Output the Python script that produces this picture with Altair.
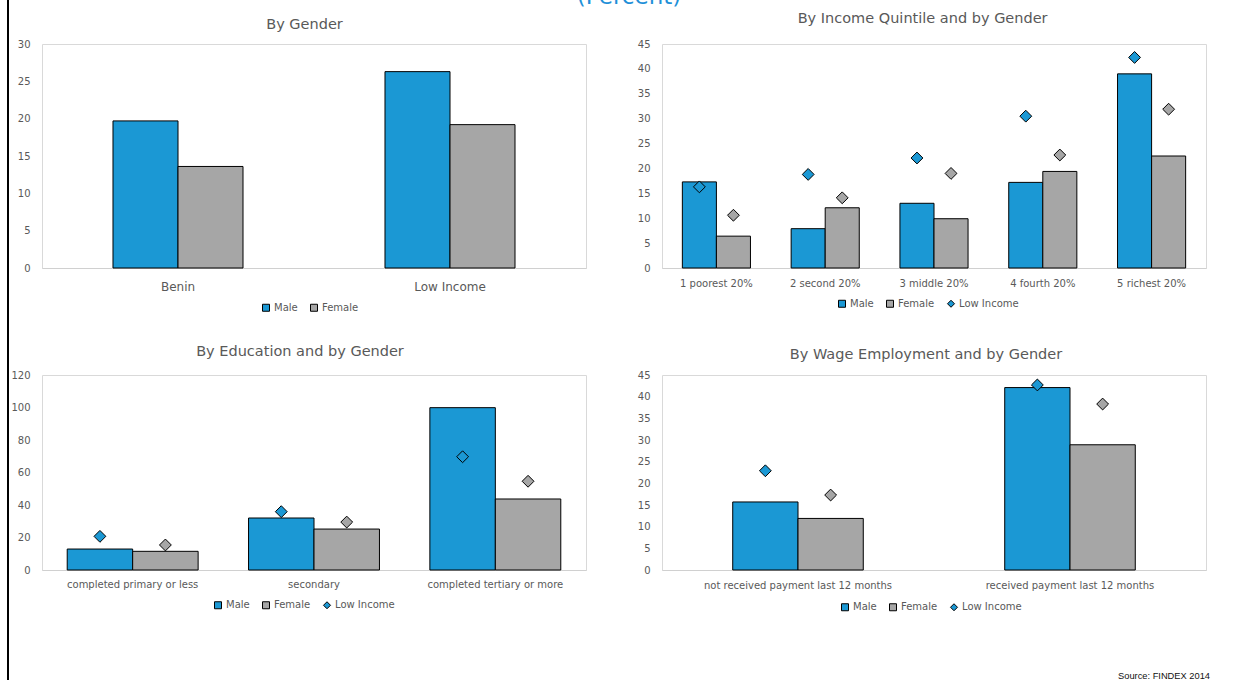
import altair as alt
import pandas as pd

# ---------------- data ----------------
genders = ["Male", "Female"]
series_names = ["Male", "Female", "Low Income"]

gender_cats = ["Benin", "Low Income"]
gender_male = [19.7, 26.3]
gender_female = [13.6, 19.2]
gender_ticks = [0, 5, 10, 15, 20, 25, 30]

quint_cats = ["1 poorest 20%", "2 second 20%", "3 middle 20%", "4 fourth 20%", "5 richest 20%"]
quint_male = [17.3, 7.9, 13.0, 17.2, 39.0]
quint_female = [6.4, 12.1, 9.9, 19.4, 22.5]
quint_li_male = [16.3, 18.8, 22.1, 30.5, 42.3]
quint_li_female = [10.6, 14.1, 19.0, 22.7, 31.9]
quint_ticks = [0, 5, 10, 15, 20, 25, 30, 35, 40, 45]

edu_cats = ["completed primary or less", "secondary", "completed tertiary or more"]
edu_male = [12.9, 32.0, 99.9]
edu_female = [11.5, 25.2, 43.7]
edu_li_male = [20.7, 35.9, 69.7]
edu_li_female = [15.4, 29.5, 54.6]
edu_ticks = [0, 20, 40, 60, 80, 100, 120]

wage_cats = ["not received payment last 12 months", "received payment last 12 months"]
wage_male = [15.7, 42.1]
wage_female = [11.9, 28.9]
wage_li_male = [22.9, 42.7]
wage_li_female = [17.3, 38.3]
wage_ticks = [0, 5, 10, 15, 20, 25, 30, 35, 40, 45]

titles = ["By Gender", "By Income Quintile and by Gender",
          "By Education and by Gender", "By Wage  Employment and by Gender"]
header_text = ["(Percent)"]
source_text = ["Source: FINDEX 2014"]

# ---------------- style ----------------
BLUE = "#1B98D4"
GREY = "#A6A6A6"
TXT = "#595959"
FONT = "DejaVu Sans"
W = 544


def make_df(cats, male, female, li_male=None, li_female=None):
    rows = []
    for i, c in enumerate(cats):
        rows.append(dict(cat=c, gender="Male", value=male[i],
                         li=(li_male[i] if li_male else None)))
        rows.append(dict(cat=c, gender="Female", value=female[i],
                         li=(li_female[i] if li_female else None)))
    return pd.DataFrame(rows)


def make_legend(leg_x, leg_y, with_li):
    sym = ({"expr": "datum.label === 'Low Income' ? 'diamond' : 'square'"}
           if with_li else "square")
    return alt.Legend(
        title=None, orient="none", legendX=leg_x, legendY=leg_y,
        direction="horizontal", symbolType=sym, symbolSize=49, symbolOpacity=1,
        symbolStrokeColor="black", symbolStrokeWidth=1,
        labelFont=FONT, labelFontSize=10, labelColor=TXT, labelOffset=3,
        columnPadding=10, padding=0)


def panel(cats, male, female, li_male, li_female, title, yticks, height,
          pad_inner, xlab_size, xlab_pad, title_x, title_y, leg_x, leg_y, extra=()):
    df = make_df(cats, male, female, li_male, li_female)
    with_li = li_male is not None
    dom = series_names if with_li else genders
    rng = [BLUE, GREY, BLUE][:len(dom)]
    cscale = alt.Scale(domain=dom, range=rng)
    xscale = alt.Scale(domain=cats, paddingInner=pad_inner, paddingOuter=pad_inner / 2)
    xaxis = alt.Axis(title=None, labelAngle=0, ticks=False, labelPadding=xlab_pad,
                     labelFontSize=xlab_size, labelFont=FONT, labelColor=TXT,
                     domainColor="#D0D0D0", labelLimit=500, labelOverlap=False)
    yaxis = alt.Axis(title=None, values=yticks, grid=False, domain=False, ticks=False,
                     labelPadding=12, labelFontSize=10, labelFont=FONT,
                     labelColor=TXT, labelFlush=False)
    xoscale = alt.Scale(domain=genders, paddingInner=0, paddingOuter=0)
    yscale = alt.Scale(domain=[0, yticks[-1]], nice=False, zero=True)
    bars = alt.Chart(df).mark_bar(stroke="black", strokeWidth=1).encode(
        x=alt.X("cat:N", sort=cats, scale=xscale, axis=xaxis),
        xOffset=alt.XOffset("gender:N", sort=genders, scale=xoscale),
        y=alt.Y("value:Q", scale=yscale, axis=yaxis),
        color=alt.Color("gender:N", scale=cscale, legend=make_legend(leg_x, leg_y, with_li)))
    layers = [bars]
    if with_li:
        pts = alt.Chart(df).mark_point(shape="diamond", filled=True, size=140, stroke="black",
                                       strokeWidth=1, opacity=1).encode(
            x=alt.X("cat:N", sort=cats, scale=xscale, axis=xaxis),
            xOffset=alt.XOffset("gender:N", sort=genders, scale=xoscale),
            y=alt.Y("li:Q", scale=yscale, axis=yaxis),
            color=alt.Color("gender:N", scale=cscale, legend=None))
        layers.append(pts)
    ttl = alt.Chart(pd.DataFrame({"t": [title]})).mark_text(
        font=FONT, fontSize=14.5, color=TXT, align="center", baseline="alphabetic").encode(
        text="t:N", x=alt.value(title_x), y=alt.value(title_y))
    layers.append(ttl)
    layers += list(extra)
    return alt.layer(*layers).properties(width=W, height=height)


# decorations
left_rule = alt.Chart(pd.DataFrame({"v": [0]})).mark_rule(color="black", strokeWidth=2).encode(
    x=alt.value(-34), y=alt.value(-74), y2=alt.value(636))
pct = alt.Chart(pd.DataFrame({"t": header_text})).mark_text(
    font=FONT, fontSize=23, color="#1F90D8", align="center", baseline="alphabetic").encode(
    text="t:N", x=alt.value(-33), y=alt.value(-40.5))
src = alt.Chart(pd.DataFrame({"t": source_text})).mark_text(
    font="Liberation Sans", fontSize=9.3, color="#111111", align="right", baseline="alphabetic").encode(
    text="t:N", x=alt.value(548), y=alt.value(304))

tl = panel(gender_cats, gender_male, gender_female, None, None, titles[0], gender_ticks, 224,
           0.522, 12, 13, 262.5, -15, 219, 258.5, extra=[left_rule])
tr = panel(quint_cats, quint_male, quint_female, quint_li_male, quint_li_female, titles[1],
           quint_ticks, 224, 0.374, 10, 10, 260.6, -21, 175, 254.5, extra=[pct])
bl = panel(edu_cats, edu_male, edu_female, edu_li_male, edu_li_female, titles[2], edu_ticks, 195,
           0.278, 10, 9, 258, -19.5, 171, 225)
br = panel(wage_cats, wage_male, wage_female, wage_li_male, wage_li_female, titles[3], wage_ticks,
           195, 0.52, 10, 10, 264, -16, 178, 227, extra=[src])

chart = alt.concat(
    tl, tr, bl, br, columns=2, bounds="flush", spacing={"row": 107, "column": 76}
).resolve_scale(color="independent", xOffset="independent").resolve_legend(
    color="independent"
).properties(
    padding={"left": 6, "top": -32, "right": 0, "bottom": 0}
).configure(font=FONT).configure_view(stroke="#D9D9D9", strokeWidth=1)

chart.save("out.html", embed_options={"renderer": "svg", "actions": False})
